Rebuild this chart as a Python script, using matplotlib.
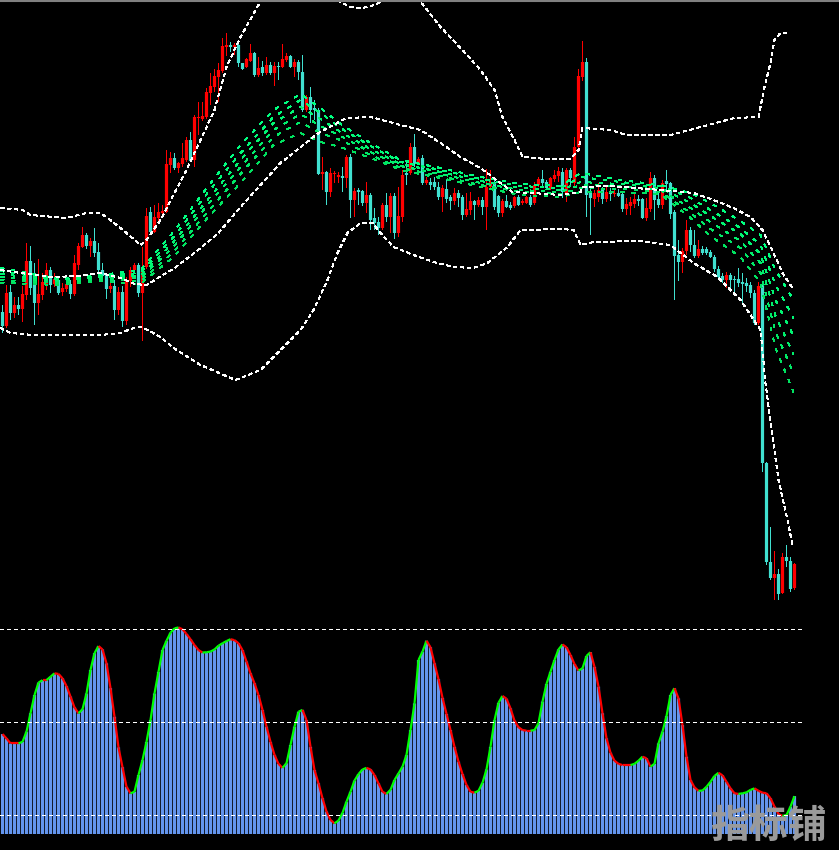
import numpy as np
import matplotlib
matplotlib.use('Agg')
import matplotlib.pyplot as plt
from matplotlib.collections import LineCollection

plt.rcParams['font.family'] = ['Noto Sans CJK SC', 'DejaVu Sans']

# candle data (price units, one candle per bar)
opens = [688, 674, 708, 687, 695, 691, 705, 739, 725, 697,
         705, 715, 730, 716, 720, 708, 711, 716, 706, 735,
         753, 765, 754, 759, 748, 730, 725, 711, 714, 690,
         708, 679, 719, 730, 735, 707, 733, 788, 768, 782,
         787, 788, 835, 842, 832, 836, 840, 860, 840, 882,
         881, 883, 907, 913, 923, 929, 953, 955, 953, 955,
         937, 933, 939, 947, 925, 933, 927, 935, 927, 934,
         933, 940, 944, 933, 938, 928, 890, 903, 892, 890,
         826, 828, 808, 826, 823, 824, 822, 843, 800, 810,
         809, 797, 805, 782, 778, 772, 795, 783, 804, 767,
         783, 827, 827, 853, 837, 842, 817, 818, 818, 813,
         803, 811, 803, 799, 807, 803, 785, 790, 799, 795,
         800, 793, 813, 818, 804, 787, 799, 795, 794, 803,
         797, 797, 803, 797, 815, 821, 818, 812, 821, 824,
         828, 806, 830, 817, 853, 923, 938, 807, 801, 803,
         811, 801, 807, 806, 807, 806, 791, 794, 796, 801,
         801, 782, 791, 822, 801, 795, 819, 817, 788, 745,
         738, 749, 770, 755, 744, 751, 751, 748, 743, 731,
         724, 720, 725, 721, 721, 718, 717, 715, 707, 677,
         714, 537, 438, 422, 426, 407, 443, 439, 412]
highs = [695, 715, 715, 703, 703, 714, 757, 754, 737, 741,
         727, 737, 733, 727, 722, 717, 718, 720, 745, 757,
         773, 767, 762, 772, 757, 737, 727, 727, 720, 713,
         714, 723, 733, 737, 737, 753, 792, 793, 795, 797,
         795, 850, 848, 847, 838, 857, 863, 868, 885, 898,
         898, 912, 927, 931, 937, 962, 967, 958, 957, 957,
         937, 942, 956, 948, 943, 939, 943, 938, 938, 938,
         956, 947, 945, 941, 940, 945, 905, 913, 900, 892,
         843, 829, 832, 829, 828, 833, 845, 846, 812, 812,
         810, 818, 807, 792, 783, 797, 807, 807, 807, 813,
         830, 840, 857, 866, 843, 845, 823, 822, 823, 818,
         815, 820, 805, 812, 810, 805, 807, 808, 800, 803,
         803, 831, 830, 820, 805, 801, 805, 798, 804, 805,
         801, 804, 805, 818, 823, 830, 820, 823, 830, 833,
         832, 832, 832, 863, 931, 959, 942, 811, 810, 817,
         813, 813, 812, 810, 811, 807, 802, 803, 807, 805,
         802, 802, 828, 825, 808, 820, 830, 818, 790, 760,
         752, 780, 773, 770, 760, 754, 753, 750, 745, 734,
         727, 728, 727, 724, 732, 727, 722, 718, 710, 718,
         716, 538, 473, 449, 431, 447, 455, 443, 437]
lows = [667, 672, 680, 682, 685, 678, 700, 705, 675, 685,
        700, 710, 707, 713, 705, 704, 708, 701, 704, 730,
        752, 751, 743, 743, 727, 718, 701, 707, 680, 685,
        673, 675, 713, 727, 703, 659, 731, 767, 767, 777,
        782, 787, 827, 830, 827, 833, 838, 838, 833, 865,
        879, 881, 895, 908, 898, 927, 944, 948, 945, 933,
        930, 932, 938, 923, 923, 924, 925, 925, 914, 920,
        932, 938, 932, 923, 920, 888, 888, 877, 880, 825,
        810, 795, 803, 817, 817, 808, 812, 782, 783, 795,
        794, 787, 770, 770, 765, 770, 778, 767, 761, 763,
        778, 815, 825, 833, 835, 815, 815, 810, 810, 800,
        788, 797, 790, 795, 793, 780, 783, 785, 780, 793,
        785, 770, 812, 790, 783, 783, 792, 790, 792, 794,
        795, 796, 793, 795, 813, 813, 810, 810, 818, 818,
        802, 798, 815, 813, 852, 919, 783, 765, 793, 798,
        796, 798, 799, 803, 803, 788, 785, 785, 792, 794,
        781, 779, 788, 780, 792, 791, 810, 781, 700, 719,
        727, 745, 748, 742, 742, 745, 745, 742, 728, 720,
        717, 712, 710, 708, 713, 695, 708, 702, 675, 675,
        528, 435, 420, 400, 400, 406, 433, 408, 410]
closes = [674, 707, 687, 695, 691, 706, 739, 712, 697, 706,
          718, 730, 715, 721, 707, 712, 716, 706, 737, 754,
          765, 754, 759, 747, 730, 724, 711, 714, 690, 708,
          679, 719, 730, 735, 707, 733, 784, 768, 783, 788,
          789, 836, 842, 832, 837, 842, 860, 839, 883, 883,
          884, 908, 914, 924, 930, 954, 955, 953, 955, 937,
          931, 941, 947, 925, 932, 927, 935, 927, 934, 933,
          941, 944, 933, 938, 928, 890, 903, 890, 890, 826,
          828, 808, 827, 827, 825, 822, 843, 800, 809, 808,
          797, 805, 780, 777, 772, 795, 783, 804, 767, 784,
          825, 825, 853, 837, 841, 817, 820, 815, 813, 803,
          812, 801, 799, 807, 802, 785, 791, 799, 795, 800,
          793, 813, 818, 793, 787, 799, 793, 792, 803, 795,
          799, 803, 795, 815, 821, 817, 812, 822, 825, 829,
          808, 830, 822, 853, 924, 938, 805, 802, 807, 810,
          801, 808, 806, 807, 804, 791, 796, 798, 801, 799,
          782, 792, 822, 800, 795, 817, 816, 786, 744, 738,
          749, 770, 755, 744, 751, 747, 747, 743, 731, 723,
          720, 725, 720, 720, 717, 716, 714, 707, 677, 714,
          537, 438, 422, 426, 406, 443, 439, 411, 436]

# bollinger bands, read at sample bars
upper_x = [-0.5, 5, 7, 16, 21, 24.5, 27, 31, 34.5, 36, 39.5, 43, 46, 49.5, 53, 56, 59.5, 64,
           69.5, 74.5, 79.5, 84.5, 87, 90, 93, 98, 102, 105, 109.5, 115, 119.5, 123, 125,
           128, 130, 136, 142, 144, 145, 152, 156, 167, 174.5, 183, 189, 190.5, 192, 193,
           194.5, 196.5]
upper_y = [792, 790, 785, 782, 787, 787, 780, 767, 755, 760, 780, 807, 830, 860, 890, 933, 963,
           995, 1025, 1040, 1025, 998, 993, 992, 995, 1005, 1005, 996, 973, 950, 930, 910,
           883, 860, 843, 841, 841, 850, 872, 870, 865, 865, 873, 882, 883, 913, 937, 960,
           967, 967]
mid_x = [-0.5, 4.5, 12, 19.5, 24.5, 29.5, 33, 36, 43, 48, 54, 59.5, 64.5, 69.5, 79, 86, 92,
         99.5, 104.5, 109.5, 114.5, 119.5, 122.5, 127.5, 132.5, 139.5, 144.5, 145, 152,
         164.5, 172.75, 177.75, 182.75, 187, 190, 192.75, 195, 197.5]
mid_y = [730, 727, 723, 724, 727, 722, 716, 715, 732, 747, 767, 793, 815, 837, 867, 882, 883,
         875, 870, 857, 843, 832, 823, 808, 807, 805, 808, 813, 814, 810, 807, 800, 792, 783,
         770, 747, 727, 712]
lower_x = [-0.5, 2, 7.75, 24.5, 29.5, 32.75, 34.5, 36.25, 39.5, 42.75, 49.5, 58.25, 64.5,
           71.25, 74.5, 77.75, 81.25, 83.75, 86.25, 89.5, 92.5, 94.5, 97.75, 102.75, 107.75,
           112.75, 117.75, 121.25, 126.25, 129.5, 139.5, 142.75, 144.5, 147.75, 159.5, 167,
           172.75, 178.75, 184.5, 189.5, 190.75, 192.5, 194, 196.25, 197.5]
lower_y = [672, 667, 665, 665, 667, 672, 673, 670, 663, 652, 635, 620, 630, 657, 670, 690, 720,
           747, 767, 777, 777, 767, 753, 745, 738, 733, 732, 737, 753, 770, 771, 770, 755, 758,
           759, 755, 737, 723, 700, 670, 617, 563, 520, 480, 455]

# moving average ribbon, read at sample bars
ribbon_x = [-0.5, 14.5, 24.5, 34.5, 42.75, 51.25, 59.5, 67.75, 74.5, 79.5, 84.5, 92, 99.5,
            109.5, 119.5, 129.5, 139.5, 144.5, 154.5, 164.5, 172, 177, 184.5, 189.5, 193.25,
            197.75]
ma1 = [732, 721, 725, 730, 768, 813, 855, 890, 906, 892, 876, 857, 840, 832, 823, 816, 814,
       827, 820, 815, 807, 797, 779, 765, 730, 700]
ma2 = [729, 720, 724, 727, 763, 807, 847, 883, 900, 887, 872, 854, 838, 830, 821, 814, 812,
       823, 818, 814, 802, 790, 772, 755, 715, 682]
ma3 = [726, 719, 723, 724, 758, 800, 840, 877, 893, 881, 868, 851, 836, 828, 819, 812, 810,
       818, 816, 812, 797, 784, 766, 746, 700, 664]
ma4 = [723, 718, 722, 722, 753, 795, 833, 870, 886, 874, 864, 848, 834, 826, 817, 810, 808,
       815, 814, 810, 792, 778, 759, 737, 684, 646]
ma5 = [720, 717, 721, 719, 748, 788, 826, 863, 878, 867, 860, 845, 832, 824, 815, 808, 806,
       812, 811, 808, 787, 771, 752, 727, 668, 627]
ma6 = [717, 715, 719, 716, 743, 782, 817, 855, 867, 858, 853, 842, 830, 822, 813, 805, 803,
       808, 808, 806, 782, 764, 743, 717, 652, 608]

# oscillator values, one per bar
osc = [46.1, 44.7, 43.1, 43.1, 43.1, 43.6, 46.9, 52.8, 58.7, 62.7,
       63.5, 63.5, 64.6, 65.7, 65.5, 64.1, 61.6, 58.2, 54.7, 52.8,
       54.1, 59.2, 66.8, 72.2, 74.5, 73.4, 68.9, 60.9, 51.7, 41.8,
       35.4, 29.1, 27.0, 27.5, 32.9, 37.7, 43.6, 50.6, 59.2, 66.2,
       73.2, 76.2, 78.8, 80.2, 80.5, 79.9, 78.4, 76.7, 74.8, 73.2,
       72.4, 72.5, 72.7, 73.4, 74.6, 75.4, 76.1, 76.7, 76.4, 75.4,
       73.2, 69.5, 65.7, 62.5, 58.7, 53.9, 48.5, 43.6, 39.4, 36.5,
       35.2, 36.7, 42.6, 48.5, 53.3, 53.9, 50.6, 42.0, 34.5, 30.2,
       25.4, 21.1, 18.4, 17.3, 18.2, 20.7, 24.3, 27.5, 31.1, 33.2,
       34.7, 35.2, 34.7, 32.9, 30.2, 27.5, 26.8, 28.1, 31.3, 33.4,
       35.6, 39.4, 47.4, 56.0, 70.0,
       72.7, 76.2, 74.1, 68.9, 63.8, 57.8, 52.6, 47.4, 42.0, 37.2,
       33.2, 29.7, 27.5, 27.2, 27.8, 30.4, 34.7, 42.0, 50.6, 56.2,
       58.4, 57.5, 54.4, 50.4, 48.3, 47.4, 47.2, 47.2, 47.4, 49.6,
       56.6, 62.3, 66.2, 70.0, 73.4, 75.0, 74.1, 71.6, 68.7, 66.6,
       67.3, 71.3, 72.5, 67.8, 61.4, 52.8, 44.7, 40.1, 37.5, 36.5,
       36.1, 36.1, 36.1, 36.5, 37.5, 38.8, 38.3, 35.6, 36.5, 43.1,
       46.9, 51.9, 58.7, 60.9, 57.6, 49.0, 38.8, 31.3, 28.9, 27.8,
       27.9, 29.1, 30.7, 32.6, 33.6, 32.8, 30.7, 28.6, 27.0, 26.8,
       27.0, 27.3, 28.1, 28.6, 27.8, 27.2, 27.0, 25.4, 22.7, 20.3,
       19.7, 20.0, 22.7, 26.1]
osc_levels = [20, 50, 80]

up_color = '#ff0000'
down_color = '#40e0d0'

fig = plt.figure(figsize=(8.39, 8.50), dpi=100, facecolor='black')
ax = fig.add_axes([0, 238 / 850, 1, 612 / 850])
osc_ax = fig.add_axes([0, 16 / 850, 1, 222 / 850])
for a in (ax, osc_ax):
    a.set_facecolor('black')
    a.set_axis_off()
    # 4 px per bar, bar centres on half pixels so bodies land on whole pixels
    a.set_xlim(-0.625, 209.125)

# candles
idx = np.arange(len(closes))
o = np.array(opens)
c = np.array(closes)
colors = [up_color if cc >= oo else down_color for oo, cc in zip(o, c)]
wicks = ax.vlines(idx, lows, highs, colors=colors, lw=0.72)
wicks.set_snap(False)
body_low = np.minimum(o, c)
body_h = np.maximum(np.abs(c - o), 1)
ax.bar(idx, body_h, bottom=body_low, width=0.8, color=colors, linewidth=0, snap=False)

# ribbon
ribbon_colors = ['#00ff80', '#00fa78', '#00f472', '#00ee6c', '#00e866', '#00e260']
for ma, col in zip([ma1, ma2, ma3, ma4, ma5, ma6], ribbon_colors):
    ax.plot(ribbon_x, ma, color=col, lw=0.72, linestyle=(0, (3, 7)), antialiased=False)

# bands
for bx, by in [(upper_x, upper_y), (mid_x, mid_y), (lower_x, lower_y)]:
    ax.plot(bx, by, color='white', lw=0.72, linestyle=(0, (4, 4)), antialiased=False)
ax.set_ylim(388, 1000)

# oscillator
osc_ax.bar(idx, osc, width=0.8, color='#6495ed', linewidth=0, snap=False)
osc_arr = np.array(osc)
segs = [[(i, osc_arr[i]), (i + 1, osc_arr[i + 1])] for i in range(len(osc_arr) - 1)]
seg_cols = ['#00ff00' if osc_arr[i + 1] > osc_arr[i] else '#ff0000' for i in range(len(osc_arr) - 1)]
osc_ax.add_collection(LineCollection(segs, colors=seg_cols, linewidths=1.6))
osc_ax.hlines(osc_levels, -0.625, 200, colors='white', lw=0.72, linestyles=(0, (4, 4)),
              antialiased=False)
osc_ax.set_ylim(13.87, 85.48)

# top border line
fig.add_artist(plt.Line2D([0, 1], [1 - 1 / 850, 1 - 1 / 850], color='#808080', lw=1.5))

# watermark
fig.text(768 / 839, 1 - 826 / 850, '指标铺', color='#9a9a9a', fontsize=28,
         fontweight='heavy', ha='center', va='center')

fig.savefig('out.png', dpi=100, facecolor='black')
